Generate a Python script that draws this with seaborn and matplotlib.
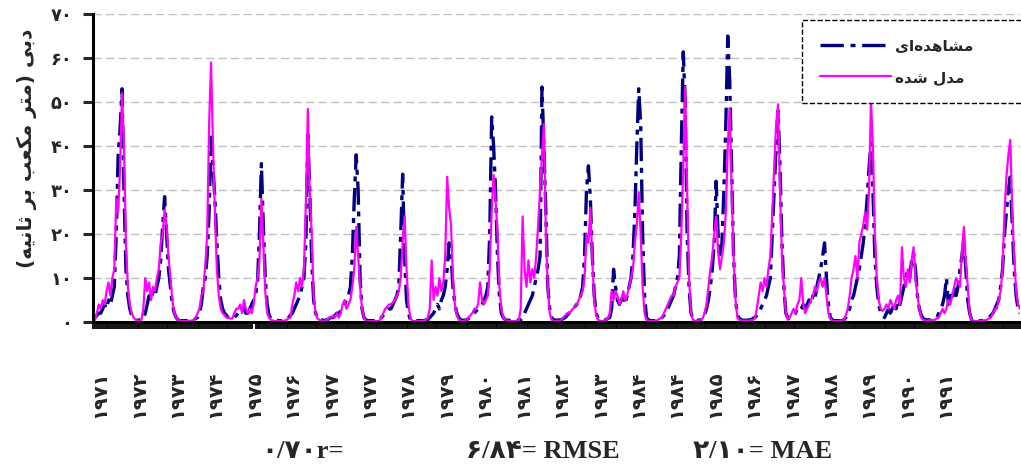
import numpy as np
import pandas as pd
import matplotlib
matplotlib.use("Agg")
import matplotlib.pyplot as plt
import seaborn as sns

# Observed and simulated discharge, 24 values (half-months) per hydrological year
observed = [
    [0.5, 1, 1.5, 2, 2, 3, 4, 3, 5, 4, 6, 8, 20, 38, 44, 53, 30, 12, 6, 3, 1.5, 0.8, 0.5, 0.3],
    [0.5, 0.5, 0.8, 2, 4, 6, 5, 7, 6, 8, 10, 14, 22, 28.5, 20, 12, 8, 4, 2, 1, 0.5, 0.3, 0.3, 0.3],
    [0.3, 0.3, 0.5, 0.5, 0.5, 0.8, 1, 2, 4, 8, 10, 15, 25, 42, 35, 28, 18, 10, 5, 3, 2, 1.5, 1, 0.8],
    [0.8, 1, 1.5, 2, 2, 2.5, 3, 2, 2, 3, 4, 5, 6, 9, 20, 36, 22, 10, 4, 1.5, 0.8, 0.5, 0.4, 0.4],
    [0.3, 0.3, 0.3, 0.5, 0.8, 1, 1.5, 2, 3, 4, 5, 6, 8, 10, 18, 42.5, 30, 14, 5, 2, 1, 0.5, 0.5, 0.4],
    [0.4, 0.5, 0.8, 1, 1, 1.5, 2, 2, 2.5, 3, 4, 5, 6, 8, 15, 28, 38, 30, 10, 3, 1, 0.5, 0.3, 0.3],
    [0.3, 0.3, 0.3, 0.3, 0.5, 1, 1.5, 2, 2.5, 3, 3, 4, 5, 6, 8, 20, 33.6, 15, 5, 2, 0.5, 0.3, 0.3, 0.3],
    [0.3, 0.3, 0.3, 0.3, 0.5, 0.5, 1, 1.5, 2, 3, 4, 3, 5, 6, 8, 12, 18, 15, 8, 4, 2, 1, 0.5, 0.4],
    [0.4, 0.5, 0.8, 1, 1.5, 2, 2.5, 3, 3.5, 4, 5, 6, 8, 20, 46.6, 40, 30, 15, 6, 2, 1, 0.5, 0.4, 0.4],
    [0.3, 0.3, 0.3, 0.3, 0.5, 0.5, 1, 2, 3, 4, 5, 6, 8, 10, 12, 15, 53.4, 40, 25, 8, 3, 1, 0.5, 0.4],
    [0.4, 0.5, 0.5, 0.8, 1, 1.5, 2, 2.5, 3, 3.5, 4, 5, 6, 8, 15, 30, 35.5, 28, 15, 6, 2, 0.8, 0.5, 0.4],
    [0.4, 0.5, 0.8, 1, 3, 12, 8, 5, 4, 5, 6, 4, 6, 8, 10, 15, 25, 40, 53, 45, 20, 6, 1, 0.5],
    [0.3, 0.3, 0.3, 0.3, 0.5, 0.8, 1, 1.5, 2, 3, 4, 5, 6, 8, 10, 15, 40, 61.4, 50, 20, 8, 2, 0.8, 0.5],
    [0.4, 0.4, 0.5, 0.8, 1.5, 3, 5, 8, 12, 18, 32, 20, 15, 18, 30, 45, 65, 55, 35, 15, 5, 1.5, 0.8, 0.5],
    [0.4, 0.4, 0.4, 0.5, 0.5, 0.8, 1, 1.5, 2, 3, 4, 5, 6, 8, 10, 20, 30, 40, 48, 35, 18, 8, 2, 1],
    [0.8, 1, 1.5, 2, 3, 2.5, 3, 4, 3, 4, 5, 4, 6, 5, 8, 10, 12, 15, 18, 10, 4, 1, 0.5, 0.3],
    [0.3, 0.3, 0.3, 0.3, 0.5, 1, 2, 3, 5, 6, 8, 10, 12, 15, 18, 22, 28, 35, 40.7, 30, 15, 8, 4, 2],
    [1.5, 1, 2, 3, 2, 3, 4, 3, 5, 4, 6, 8, 10, 12, 10, 14, 15.7, 12, 6, 3, 1.5, 0.8, 0.5, 0.5],
    [0.5, 0.4, 0.5, 0.8, 1, 2, 3, 4, 6, 10, 4, 6, 5, 8, 6, 8, 12, 15, 19, 12, 5, 2, 0.5, 0.3],
    [0.3, 0.3, 0.3, 0.3, 0.3, 0.5, 0.8, 1, 1.5, 2, 3, 4, 5, 8, 12, 20, 25, 30, 33, 22, 12, 6, 3, 2],
]
modeled = [
    [0, 0.5, 2, 4, 3, 5, 4, 7, 9, 6, 10, 12, 28, 25, 35, 52, 40, 18, 8, 4, 2, 1, 0.5, 0.3],
    [0.3, 0.5, 3, 10, 7, 9, 5, 8, 7, 10, 12, 18, 20, 25.5, 22, 15, 10, 5, 2, 1, 0.5, 0.3, 0.2, 0.2],
    [0.2, 0.2, 0.3, 0.3, 0.5, 1, 2, 3, 6, 7, 13, 20, 45, 59, 40, 25, 12, 6, 3, 2, 1.5, 1, 1, 0.8],
    [0.8, 2, 3, 3, 4, 2, 5, 3, 2, 3, 2, 4, 8, 10, 14, 28, 18, 7, 2, 1, 0.5, 0.3, 0.2, 0.2],
    [0.2, 0.2, 0.3, 0.3, 0.5, 0.8, 1, 4, 6, 9, 7, 10, 8, 12, 27, 48.4, 30, 20, 6, 2, 0.8, 0.5, 0.3, 0.3],
    [0.3, 0.5, 1, 1, 1.5, 1, 2, 1, 2, 4, 5, 3, 4, 5, 8, 12, 21.6, 15, 8, 3, 1, 0.3, 0.2, 0.2],
    [0.2, 0.2, 0.2, 0.2, 0.3, 1, 2, 3, 3.5, 4, 4, 4.5, 5, 6, 7, 10, 18, 24, 12, 4, 0.8, 0.3, 0.2, 0.2],
    [0.2, 0.2, 0.2, 0.3, 0.5, 1, 3, 14, 5, 8, 6, 10, 7, 9, 15, 33, 26, 22, 10, 4, 1.5, 0.5, 0.3, 0.2],
    [0.3, 0.5, 1, 1.5, 2, 3, 3, 4, 9, 5, 4, 5, 6, 12, 25, 33.4, 28, 20, 8, 3, 1, 0.5, 0.3, 0.2],
    [0.2, 0.2, 0.2, 0.2, 0.3, 3, 24, 12, 8, 14, 9, 12, 10, 15, 22, 30, 38, 45, 20, 8, 2, 0.5, 0.3, 0.2],
    [0.3, 0.3, 0.5, 1, 1.5, 2, 2, 2.5, 3, 3.5, 4, 5, 6, 7, 10, 20, 18, 26, 14, 5, 1.5, 0.5, 0.3, 0.2],
    [0.3, 0.5, 0.8, 2, 7, 5, 7, 6, 4, 5, 7, 5, 6, 8, 10, 12, 18, 22, 29.5, 20, 8, 2, 0.5, 0.3],
    [0.2, 0.2, 0.2, 0.3, 0.5, 0.8, 1, 2, 3, 4, 5, 6, 6, 8, 9, 10, 20, 35, 53.4, 30, 10, 2, 0.5, 0.3],
    [0.3, 0.3, 0.5, 0.8, 2, 4, 8, 12, 15, 20, 24, 16, 12, 15, 18, 25, 40, 48.4, 30, 15, 5, 1, 0.5, 0.3],
    [0.3, 0.3, 0.3, 0.3, 0.4, 0.5, 0.8, 3, 6, 9, 7, 10, 8, 12, 15, 25, 35, 45, 49.5, 30, 15, 8, 2, 0.5],
    [1, 2, 3, 2, 4, 5, 10, 4, 2, 3, 4, 5, 6, 8, 7, 9, 10, 8, 10, 6, 2, 0.8, 0.3, 0.2],
    [0.2, 0.2, 0.3, 0.3, 0.5, 1.5, 3, 6, 10, 12, 15, 10, 18, 20, 22, 25, 21, 30, 50, 40, 20, 10, 5, 3],
    [2.5, 3, 4, 3, 5, 4, 3, 5, 6, 4, 17, 10, 8, 12, 9, 14, 17, 10, 6, 3, 1, 0.5, 0.3, 0.3],
    [0.4, 0.4, 0.5, 0.5, 0.8, 1, 2, 3, 2, 3, 5, 4, 6, 8, 10, 9, 8, 16, 21.6, 14, 8, 2, 0.5, 0.3],
    [0.2, 0.2, 0.2, 0.3, 0.3, 0.4, 0.5, 0.8, 1, 2, 3, 3, 5, 7, 12, 25, 33, 38, 41.4, 25, 15, 7, 4, 3],
]
year_labels = ["۱۹۷۱", "۱۹۷۲", "۱۹۷۳", "۱۹۷۴", "۱۹۷۵", "۱۹۷۶", "۱۹۷۷", "۱۹۷۷",
               "۱۹۷۸", "۱۹۷۹", "۱۹۸۰", "۱۹۸۱", "۱۹۸۲", "۱۹۸۳", "۱۹۸۴", "۱۹۸۴",
               "۱۹۸۵", "۱۹۸۶", "۱۹۸۷", "۱۹۸۸", "۱۹۸۹", "۱۹۹۰", "۱۹۹۱"]
y_labels = ["۰", "۱۰", "۲۰", "۳۰", "۴۰", "۵۰", "۶۰", "۷۰"]
stats = ["۰/۷۰r=", "۶/۸۴= RMSE", "۲/۱۰= MAE"]

# Simple Persian shaping (matplotlib has no bidi / joining support)
FORMS = {
    'ا': ('\uFE8D', '\uFE8E', None, None),
    'ب': ('\uFE8F', '\uFE90', '\uFE91', '\uFE92'),
    'ت': ('\uFE95', '\uFE96', '\uFE97', '\uFE98'),
    'ث': ('\uFE99', '\uFE9A', '\uFE9B', '\uFE9C'),
    'د': ('\uFEA9', '\uFEAA', None, None),
    'ر': ('\uFEAD', '\uFEAE', None, None),
    'ش': ('\uFEB5', '\uFEB6', '\uFEB7', '\uFEB8'),
    'ع': ('\uFEC9', '\uFECA', '\uFECB', '\uFECC'),
    'ک': ('\uFB8E', '\uFB8F', '\uFB90', '\uFB91'),
    'ل': ('\uFEDD', '\uFEDE', '\uFEDF', '\uFEE0'),
    'م': ('\uFEE1', '\uFEE2', '\uFEE3', '\uFEE4'),
    'ن': ('\uFEE5', '\uFEE6', '\uFEE7', '\uFEE8'),
    'ه': ('\uFEE9', '\uFEEA', '\uFEEB', '\uFEEC'),
    'ی': ('\uFEEF', '\uFEF0', '\uFEF3', '\uFEF4'),
}


def shape_fa(text):
    out = []
    for i, c in enumerate(text):
        if c not in FORMS:
            if c != '\u200c':
                out.append(c)
            continue
        prev = text[i - 1] if i > 0 else ''
        nxt = text[i + 1] if i + 1 < len(text) else ''
        iso, fin, ini, med = FORMS[c]
        join_prev = prev in FORMS and FORMS[prev][2] is not None
        join_next = nxt in FORMS and ini is not None
        if join_prev and join_next:
            out.append(med)
        elif join_prev:
            out.append(fin)
        elif join_next:
            out.append(ini)
        else:
            out.append(iso)
    mirror = {'(': ')', ')': '('}
    return ''.join(mirror.get(c, c) for c in reversed(out))


obs = np.concatenate([np.array(r, dtype=float) for r in observed])
mod = np.concatenate([np.array(r, dtype=float) for r in modeled])
df = pd.DataFrame({'step': np.arange(len(obs)), 'observed': obs, 'modeled': mod})

sns.set_style('white')
plt.rcParams['font.family'] = ['DejaVu Sans']

fig = plt.figure(figsize=(10.21, 4.66), dpi=100)
ax = fig.add_axes([0.0911, 0.309, 0.9079, 0.661])

sns.lineplot(data=df, x='step', y='observed', color='#000080', linewidth=2.4,
             linestyle=(0, (7, 2, 1.5, 2)), label=shape_fa('مشاهده\u200cای'), ax=ax)
sns.lineplot(data=df, x='step', y='modeled', color='#FF00FF', linewidth=1.6,
             label=shape_fa('مدل شده'), ax=ax)

ax.set_xlim(0, len(obs) - 1)
ax.set_ylim(0, 70)

# y axis
ax.set_yticks(np.arange(0, 71, 10))
ax.set_yticklabels(y_labels, fontsize=13, fontweight='bold')
ax.yaxis.grid(True, color='#c0c0c0', linestyle=(0, (6, 3)), linewidth=1)
ax.tick_params(axis='y', direction='out', length=7, width=2.2, pad=8, left=True)

# x axis: one small tick per time step, year labels every ~20 steps
label_step = 19.85
ax.set_xticks(3.6 + label_step * np.arange(len(year_labels)))
ax.set_xticklabels(year_labels, rotation=90, fontsize=14, fontweight='bold')
ax.set_xticks(np.arange(len(obs)), minor=True)
ax.tick_params(axis='x', which='major', length=0, pad=35)
ax.tick_params(axis='x', which='minor', direction='out', length=5, width=1.3, color='black', bottom=True)

for side in ['top', 'right']:
    ax.spines[side].set_visible(False)
for side in ['left', 'bottom']:
    ax.spines[side].set_linewidth(2.2)
    ax.spines[side].set_color('black')

ax.set_xlabel('')
ax.set_ylabel(shape_fa('دبی (متر مکعب بر ثانیه)'), fontsize=14.5, fontweight='bold')
ax.yaxis.set_label_coords(-0.06, 0.565)

leg = ax.legend(loc='upper left', bbox_to_anchor=(0.765, 0.72, 0.26, 0.262), mode='expand',
                borderaxespad=0, frameon=True, fancybox=False, framealpha=1, edgecolor='black',
                handlelength=4.6, handletextpad=0.3, labelspacing=1.1, borderpad=1.2,
                prop={'weight': 'bold', 'size': 11})
leg.get_frame().set_linestyle('--')
leg.get_frame().set_linewidth(1)

stat_x = [303, 543, 763]
for sx, s in zip(stat_x, stats):
    fig.text(sx / 1021, 1 - 452 / 466, s, ha='center', va='center', fontsize=19,
             fontweight='bold', family=['Liberation Serif', 'DejaVu Sans'])

fig.savefig('out.png', dpi=100)
